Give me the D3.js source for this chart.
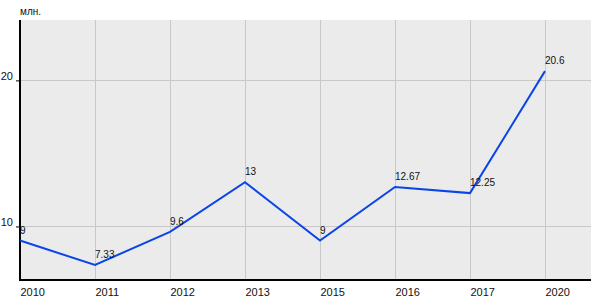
<!DOCTYPE html>
<html>
<head>
<meta charset="utf-8">
<script src="https://cdn.jsdelivr.net/npm/d3@7"></script>
<style>
  body { margin: 0; background: #fff; }
  text { font-family: Arial, "Liberation Sans", sans-serif; fill: #111; }
</style>
</head>
<body>
<div id="chart"></div>
<script>
const years = ["2010", "2011", "2012", "2013", "2015", "2016", "2017", "2020"];
const values = [9, 7.33, 9.6, 13, 9, 12.67, 12.25, 20.6];
const labels = ["9", "7.33", "9.6", "13", "9", "12.67", "12.25", "20.6"];
const yTicks = [10, 20];
const unit = "млн.";

const width = 600, height = 300;
const margin = {top: 20, right: 9, bottom: 20, left: 20};
const plotRight = width - margin.right;
const plotBottom = height - margin.bottom;

const svg = d3.select("#chart").append("svg")
    .attr("width", width)
    .attr("height", height);

// x: points spaced evenly, last category leaves some room before the edge
const x = d3.scalePoint()
    .domain(years)
    .range([margin.left, 545]);

const y = d3.scaleLinear()
    .domain([6.3, 24.1])
    .range([plotBottom, margin.top]);

// background
svg.append("rect")
    .attr("x", margin.left)
    .attr("y", margin.top)
    .attr("width", plotRight - margin.left)
    .attr("height", plotBottom - margin.top)
    .attr("fill", "#ebebeb");

// grid
svg.append("g")
    .selectAll("line")
    .data(years.slice(1))
    .join("line")
    .attr("x1", d => x(d) + 0.5).attr("x2", d => x(d) + 0.5)
    .attr("y1", margin.top).attr("y2", plotBottom)
    .attr("stroke", "#c8c8c8");

svg.append("g")
    .selectAll("line")
    .data(yTicks)
    .join("line")
    .attr("x1", margin.left).attr("x2", plotRight)
    .attr("y1", d => Math.round(y(d)) + 0.5).attr("y2", d => Math.round(y(d)) + 0.5)
    .attr("stroke", "#c8c8c8");

// axes
const yAxis = d3.axisLeft(y).tickValues(yTicks).tickSize(4).tickPadding(3);
svg.append("g")
    .attr("transform", `translate(${margin.left},0.5)`)
    .call(yAxis)
    .call(g => g.select(".domain").remove())
    .call(g => g.selectAll("line").attr("stroke", "#000"))
    .call(g => g.selectAll("text").attr("font-size", 11).attr("dy", "-0.05em").attr("fill", "#111"));

const xAxis = d3.axisBottom(x).tickSize(0).tickPadding(8);
svg.append("g")
    .attr("transform", `translate(0,${plotBottom})`)
    .call(xAxis)
    .call(g => g.select(".domain").remove())
    .call(g => g.selectAll("text").attr("font-size", 11).attr("text-anchor", "start").attr("fill", "#111"));

svg.append("line")
    .attr("x1", margin.left).attr("x2", margin.left)
    .attr("y1", margin.top).attr("y2", plotBottom + 1)
    .attr("stroke", "#000").attr("stroke-width", 2);
svg.append("line")
    .attr("x1", margin.left - 1).attr("x2", plotRight)
    .attr("y1", plotBottom).attr("y2", plotBottom)
    .attr("stroke", "#000").attr("stroke-width", 2);

// line
const line = d3.line()
    .x((d, i) => x(years[i]))
    .y(d => y(d));

svg.append("path")
    .datum(values)
    .attr("d", line)
    .attr("fill", "none")
    .attr("stroke", "#0a45e8")
    .attr("stroke-width", 2);

// point labels
svg.append("g")
    .selectAll("text")
    .data(values)
    .join("text")
    .attr("x", (d, i) => x(years[i]))
    .attr("y", d => y(d) - 7)
    .attr("font-size", 10)
    .text((d, i) => labels[i]);

// unit
svg.append("text")
    .attr("x", margin.left)
    .attr("y", 15)
    .attr("font-size", 10)
    .text(unit);
</script>
</body>
</html>
